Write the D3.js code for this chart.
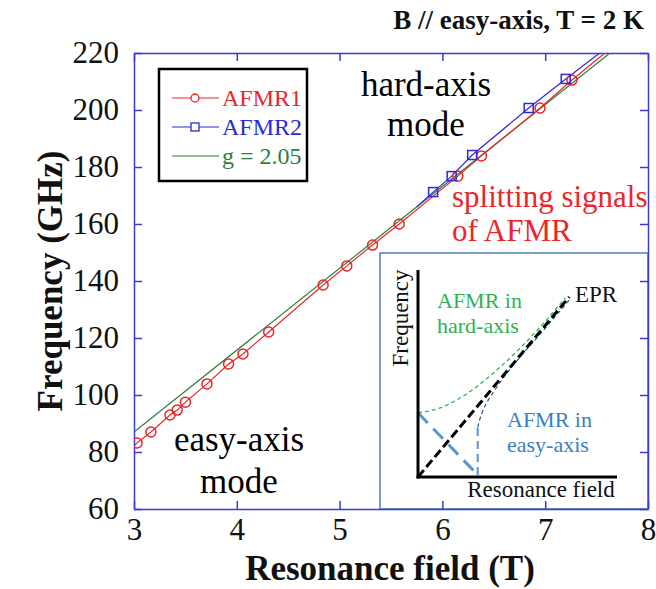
<!DOCTYPE html>
<html lang="en">
<head>
  <meta charset="UTF-8">
  <title>AFMR frequency vs field</title>
  <script src="https://d3js.org/d3.v7.min.js"></script>
  <style>
    body { margin: 0; background: #fff; }
    svg { display: block; }
    svg text { font-family: "Liberation Serif", "Times New Roman", "DejaVu Serif", serif; }
    .axis path, .axis line { stroke: #3a3ad8; stroke-width: 1.5; }
    .axis text { fill: #111; font-size: 31px; }
  </style>
</head>
<body>
  <svg id="chart" width="656" height="589"></svg>

  <script>
    // data
    const afmr1B = [3.03, 3.165, 3.35, 3.42, 3.50, 3.71, 3.92, 4.06, 4.31, 4.84, 5.07, 5.32, 5.58, 6.15, 6.38, 6.95, 7.26];
    const afmr1F = [83.2, 87.0, 93.0, 94.7, 97.5, 103.9, 110.9, 114.4, 122.1, 138.6, 145.3, 152.6, 160.0, 176.8, 183.9, 200.7, 210.5];
    const afmr2B = [5.91, 6.09, 6.29, 6.84, 7.20];
    const afmr2F = [171.2, 176.8, 184.2, 200.7, 210.9];
    // line ends beyond the markers
    const afmr1Ends = [[3.0, 82.2], [7.58, 220]];
    const afmr2Ends = [[5.75, 166.0], [7.53, 220]];
    const gLine = [[3.0, 87.0], [7.63, 220]];

    const xTicks = [3, 4, 5, 6, 7, 8];
    const yTicks = [60, 80, 100, 120, 140, 160, 180, 200, 220];

    // inset sketch, in its own 0..1 units
    const eprLine = [[0, 0], [0.76, 0.87]];
    const hardCurve = [[0, 0.31], [0.1, 0.33], [0.2, 0.375], [0.3, 0.44], [0.4, 0.52], [0.5, 0.61], [0.6, 0.71], [0.74, 0.865]];
    const easyLow = [[0, 0.31], [0.3, 0.01]];
    const easyJump = [[0.3, 0.01], [0.3, 0.24]];
    const easyHigh = [[0.3, 0.24], [0.33, 0.33], [0.4, 0.44], [0.5, 0.565], [0.6, 0.675], [0.76, 0.855]];

    const svg = d3.select("#chart");
    const x = d3.scaleLinear().domain([3, 8]).range([134, 648]);
    const y = d3.scaleLinear().domain([60, 220]).range([509, 53]);

    const red = "#e8262c", blue = "#2a2ad6", green = "#2f7d3a";
    const serif = "Liberation Serif, Times New Roman, serif";

    svg.append("clipPath").attr("id", "plot-clip")
      .append("rect")
      .attr("x", x(3)).attr("y", y(220))
      .attr("width", x(8) - x(3)).attr("height", y(60) - y(220));

    // inset box (drawn below the axes, main ticks show through)
    const ix = d3.scaleLinear().domain([0, 1]).range([418, 617]);
    const iy = d3.scaleLinear().domain([0, 1]).range([477, 270]);
    const inset = svg.append("g").attr("font-family", serif);
    inset.append("rect")
      .attr("x", 380).attr("y", 253).attr("width", x(8) - 380).attr("height", y(60) - 253)
      .attr("fill", "#fff").attr("stroke", "#4a7fb8").attr("stroke-width", 1.5);

    const il = d3.line().x(d => ix(d[0])).y(d => iy(d[1]));
    const ic = d3.line().x(d => ix(d[0])).y(d => iy(d[1])).curve(d3.curveMonotoneX);

    inset.append("path").attr("d", ic(hardCurve)).attr("fill", "none")
      .attr("stroke", "#2fb350").attr("stroke-width", 1.3).attr("stroke-dasharray", "4,3");
    inset.append("path").attr("d", il(easyLow)).attr("fill", "none")
      .attr("stroke", "#5b93cc").attr("stroke-width", 3).attr("stroke-dasharray", "14,8");
    inset.append("path").attr("d", il(easyJump)).attr("fill", "none")
      .attr("stroke", "#5b93cc").attr("stroke-width", 2).attr("stroke-dasharray", "8,5");
    inset.append("path").attr("d", d3.line().x(d => ix(d[0])).y(d => iy(d[1])).curve(d3.curveMonotoneY)(easyHigh))
      .attr("fill", "none").attr("stroke", "#34509c").attr("stroke-width", 1.2).attr("stroke-dasharray", "4,3");
    inset.append("path").attr("d", il(eprLine)).attr("fill", "none")
      .attr("stroke", "#000").attr("stroke-width", 3).attr("stroke-dasharray", "9,4");

    // inset axes
    inset.append("line").attr("x1", ix(0)).attr("x2", ix(0)).attr("y1", iy(0) + 1.5).attr("y2", iy(1))
      .attr("stroke", "#000").attr("stroke-width", 3);
    inset.append("line").attr("x1", ix(0) - 1.5).attr("x2", ix(1)).attr("y1", iy(0)).attr("y2", iy(0))
      .attr("stroke", "#000").attr("stroke-width", 3);

    inset.append("text").attr("transform", "translate(408,318) rotate(-90)")
      .attr("text-anchor", "middle").attr("font-size", 23).attr("fill", "#111").text("Frequency");
    inset.append("text").attr("x", 541).attr("y", 497)
      .attr("text-anchor", "middle").attr("font-size", 23).attr("fill", "#111").text("Resonance field");
    inset.append("text").attr("x", 575).attr("y", 302)
      .attr("font-size", 23).attr("fill", "#111").text("EPR");

    const hardLbl = inset.append("text").attr("font-size", 22).attr("fill", "#2fb350");
    hardLbl.append("tspan").attr("x", 437).attr("y", 308).text("AFMR in");
    hardLbl.append("tspan").attr("x", 437).attr("y", 333).text("hard-axis");
    const easyLbl = inset.append("text").attr("font-size", 22).attr("fill", "#3a7fc0");
    easyLbl.append("tspan").attr("x", 507).attr("y", 427).text("AFMR in");
    easyLbl.append("tspan").attr("x", 507).attr("y", 452).text("easy-axis");

    // main axes
    const fmt = d3.format("d");
    svg.append("g").attr("class", "axis").attr("transform", `translate(0,${y(60)})`)
      .call(d3.axisBottom(x).tickValues(xTicks).tickFormat(fmt).tickSize(-8).tickPadding(9).tickSizeOuter(0))
      .attr("font-family", serif);
    svg.append("g").attr("class", "axis").attr("transform", `translate(0,${y(220)})`)
      .call(d3.axisTop(x).tickValues(xTicks).tickSize(-8).tickFormat("").tickSizeOuter(0));
    svg.append("g").attr("class", "axis").attr("transform", `translate(${x(3)},0)`)
      .call(d3.axisLeft(y).tickValues(yTicks).tickFormat(fmt).tickSize(-8).tickPadding(15).tickSizeOuter(0))
      .attr("font-family", serif);
    svg.append("g").attr("class", "axis").attr("transform", `translate(${x(8)},0)`)
      .call(d3.axisRight(y).tickValues(yTicks).tickSize(-8).tickFormat("").tickSizeOuter(0));

    // lines and markers
    const line = d3.line().x(d => x(d[0])).y(d => y(d[1]));
    const plot = svg.append("g").attr("clip-path", "url(#plot-clip)");

    const pts1 = afmr1B.map((b, i) => [b, afmr1F[i]]);
    const pts2 = afmr2B.map((b, i) => [b, afmr2F[i]]);

    plot.append("path").attr("d", line(gLine)).attr("fill", "none")
      .attr("stroke", green).attr("stroke-width", 1.2);
    plot.append("path").attr("d", line([afmr2Ends[0], ...pts2, afmr2Ends[1]])).attr("fill", "none")
      .attr("stroke", blue).attr("stroke-width", 1.2);
    plot.append("path").attr("d", line([afmr1Ends[0], ...pts1, afmr1Ends[1]])).attr("fill", "none")
      .attr("stroke", red).attr("stroke-width", 1.2);

    plot.selectAll("circle.a1").data(pts1).join("circle").attr("class", "a1")
      .attr("cx", d => x(d[0])).attr("cy", d => y(d[1])).attr("r", 5)
      .attr("fill", "none").attr("stroke", red).attr("stroke-width", 1.5);
    plot.selectAll("rect.a2").data(pts2).join("rect").attr("class", "a2")
      .attr("x", d => x(d[0]) - 4.5).attr("y", d => y(d[1]) - 4.5).attr("width", 9).attr("height", 9)
      .attr("fill", "none").attr("stroke", blue).attr("stroke-width", 1.5);

    // legend
    const lg = svg.append("g").attr("font-family", serif);
    lg.append("rect").attr("x", 159).attr("y", 69).attr("width", 148).attr("height", 112)
      .attr("fill", "#fff").attr("stroke", "#000").attr("stroke-width", 2.5);
    const items = [
      { label: "AFMR1", color: red, mark: "circle" },
      { label: "AFMR2", color: blue, mark: "square" },
      { label: "g = 2.05", color: green, mark: null }
    ];
    items.forEach((it, i) => {
      const cy = 98 + i * 29;
      lg.append("line").attr("x1", 172).attr("x2", 219).attr("y1", cy).attr("y2", cy)
        .attr("stroke", it.color).attr("stroke-width", 1.2);
      if (it.mark === "circle") {
        lg.append("circle").attr("cx", 195).attr("cy", cy).attr("r", 4)
          .attr("fill", "#fff").attr("stroke", it.color).attr("stroke-width", 1.3);
      } else if (it.mark === "square") {
        lg.append("rect").attr("x", 191).attr("y", cy - 4).attr("width", 8).attr("height", 8)
          .attr("fill", "#fff").attr("stroke", it.color).attr("stroke-width", 1.3);
      }
      lg.append("text").attr("x", 222).attr("y", cy + 8).attr("font-size", 24)
        .attr("fill", it.color).text(it.label);
    });

    // annotations
    const notes = svg.append("g").attr("font-family", serif);
    const hard = notes.append("text").attr("text-anchor", "middle").attr("font-size", 35).attr("fill", "#000");
    hard.append("tspan").attr("x", 426).attr("y", 96).text("hard-axis");
    hard.append("tspan").attr("x", 426).attr("y", 136).text("mode");
    const easy = notes.append("text").attr("text-anchor", "middle").attr("font-size", 35).attr("fill", "#000");
    easy.append("tspan").attr("x", 239).attr("y", 451).text("easy-axis");
    easy.append("tspan").attr("x", 239).attr("y", 493).text("mode");
    const split = notes.append("text").attr("font-size", 31).attr("fill", red);
    split.append("tspan").attr("x", 452).attr("y", 207).text("splitting signals");
    split.append("tspan").attr("x", 452).attr("y", 241).text("of AFMR");

    // titles
    notes.append("text").attr("x", 644).attr("y", 29).attr("text-anchor", "end")
      .attr("font-size", 27).attr("font-weight", "bold").attr("fill", "#111")
      .text("B // easy-axis, T = 2 K");
    notes.append("text").attr("x", 390).attr("y", 580).attr("text-anchor", "middle")
      .attr("font-size", 35).attr("font-weight", "bold").attr("fill", "#111")
      .text("Resonance field (T)");
    notes.append("text").attr("transform", `translate(62,${y(140)}) rotate(-90)`)
      .attr("text-anchor", "middle").attr("font-size", 35).attr("font-weight", "bold").attr("fill", "#111")
      .text("Frequency (GHz)");
  </script>
</body>
</html>
